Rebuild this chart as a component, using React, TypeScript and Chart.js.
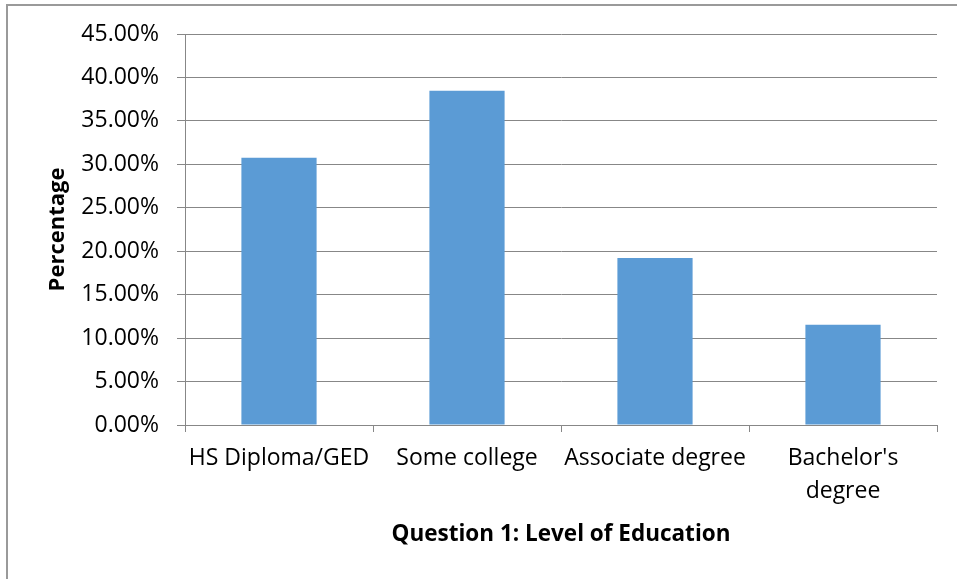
import React, { useEffect, useRef } from "react";
import { Chart, registerables } from "chart.js";

Chart.register(...registerables);

const categories: (string | string[])[] = [
  "HS Diploma/GED",
  "Some college",
  "Associate degree",
  ["Bachelor's", "degree"],
];
const percentages: number[] = [30.77, 38.46, 19.23, 11.54];
const yTicks: number[] = [0, 5, 10, 15, 20, 25, 30, 35, 40, 45];
const xTitle = "Question 1: Level of Education";
const yTitle = "Percentage";

const FONT = "'Open Sans', 'Noto Sans', sans-serif";
const GRID = "#878787";

export default function App() {
  const ref = useRef<HTMLCanvasElement | null>(null);

  useEffect(() => {
    if (!ref.current) return;
    const chart = new Chart(ref.current, {
      type: "bar",
      data: {
        labels: categories,
        datasets: [
          {
            data: percentages,
            backgroundColor: "#5B9BD5",
            borderWidth: 0,
            categoryPercentage: 1,
            barPercentage: 0.4,
          },
        ],
      },
      options: {
        animation: false,
        responsive: false,
        maintainAspectRatio: false,
        layout: { padding: { left: 0, right: 20, top: 34, bottom: 0 } },
        plugins: {
          legend: { display: false },
          tooltip: { enabled: false },
        },
        scales: {
          x: {
            afterFit: (s: any) => {
              s.height = 154;
            },
            grid: {
              display: true,
              drawOnChartArea: false,
              drawTicks: true,
              tickLength: 7,
              color: GRID,
              offset: true,
            },
            border: { display: true, color: GRID, width: 1 },
            ticks: {
              color: "#000",
              maxRotation: 0,
              minRotation: 0,
              autoSkip: false,
              padding: 10,
              font: { family: FONT, size: 23, lineHeight: "33px" },
            },
            title: {
              display: true,
              text: xTitle,
              color: "#000",
              font: { family: FONT, size: 22.5, weight: "bold" },
              padding: { top: 0, bottom: 31 },
            },
          },
          y: {
            min: 0,
            max: 45,
            afterFit: (s: any) => {
              s.width = 185;
            },
            afterBuildTicks: (s: any) => {
              s.ticks = yTicks.map((v) => ({ value: v }));
            },
            grid: {
              color: GRID,
              tickLength: 8,
              drawTicks: true,
            },
            border: { display: true, color: GRID, width: 1 },
            ticks: {
              color: "#000",
              padding: 18,
              font: { family: FONT, size: 23 },
              callback: (v: any) => Number(v).toFixed(2) + "%",
            },
            title: {
              display: true,
              text: yTitle,
              color: "#000",
              font: { family: FONT, size: 22, weight: "bold" },
              padding: { top: 45, bottom: 0 },
            },
          },
        },
      },
    });
    return () => chart.destroy();
  }, []);

  return (
    <div
      style={{
        position: "fixed",
        left: 0,
        top: 0,
        width: 957,
        height: 579,
        background: "#fff",
      }}
    >
      <canvas ref={ref} width={957} height={579} style={{ display: "block" }} />
      <div
        style={{
          position: "absolute",
          left: 6,
          top: 4,
          width: 960,
          height: 600,
          borderLeft: "2px solid #9a9a9a",
          borderTop: "2px solid #9a9a9a",
          pointerEvents: "none",
        }}
      />
    </div>
  );
}
